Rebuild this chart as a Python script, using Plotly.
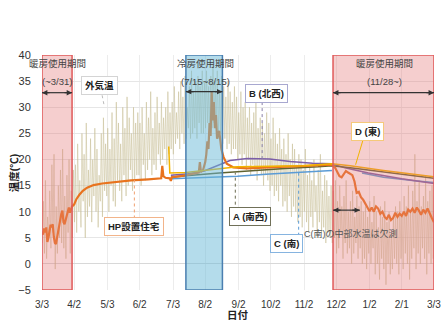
import pandas as pd
import plotly.graph_objects as go

# ---------------------------------------------------------------- data
tick_labels = ["3/3", "4/2", "5/3", "6/2", "7/3", "8/2", "9/2", "10/2",
               "11/2", "12/2", "1/2", "2/1", "3/3"]

# outdoor air temperature: min / max every 2 days from 2016-03-03
outdoor_start = "2016-03-03"
outdoor_step_days = 2
outdoor_max = [
    12, 16, 9, 14, 19, 21, 11, 15, 18, 22, 13, 17, 20, 14, 18,      # Mar
    19, 23, 16, 25, 21, 27, 18, 24, 20, 26, 22, 17, 25, 28, 23,     # Apr
    26, 22, 29, 24, 31, 27, 23, 30, 26, 32, 28, 25, 30, 27, 29,     # May
    27, 30, 25, 31, 28, 33, 26, 29, 32, 27, 31, 28, 30, 33, 29,     # Jun
    31, 34, 29, 33, 35, 32, 36, 30, 34, 37, 33, 35, 36, 34, 37,     # Jul
    35, 37, 34, 36, 38, 35, 37, 33, 36, 34, 32, 35, 33, 31, 34,     # Aug
    32, 29, 33, 30, 31, 28, 30, 27, 29, 31, 26, 28, 27, 25, 29,     # Sep
    27, 24, 28, 25, 23, 26, 22, 24, 21, 25, 20, 23, 22, 19, 21,     # Oct
    20, 18, 22, 17, 19, 16, 20, 15, 18, 21, 14, 17, 16, 13, 15,     # Nov
    14, 16, 12, 15, 11, 13, 16, 10, 12, 14, 9, 13, 11, 12, 10,      # Dec
    11, 9, 12, 8, 13, 10, 7, 11, 9, 12, 8, 10, 6, 9, 11,            # Jan
    10, 12, 9, 13, 11, 15, 10, 14, 21, 12, 16, 11, 13, 17, 12, 14, 15, 13,  # Feb
]
outdoor_min = [
    4, 2, 1, 5, 3, 6, -1, 2, 5, 4, 3, 1, 6, 2, 5,
    8, 6, 10, 7, 12, 5, 9, 11, 8, 13, 10, 7, 12, 9, 14,
    13, 10, 15, 12, 11, 16, 14, 12, 17, 13, 15, 18, 14, 16, 17,
    17, 15, 19, 16, 18, 20, 17, 19, 18, 21, 19, 20, 22, 19, 21,
    22, 21, 23, 24, 22, 25, 23, 24, 26, 24, 25, 26, 24, 27, 25,
    25, 26, 27, 25, 26, 27, 26, 24, 25, 23, 24, 22, 23, 21, 22,
    22, 20, 21, 19, 21, 18, 20, 17, 19, 18, 16, 18, 17, 15, 17,
    16, 14, 15, 13, 14, 12, 15, 11, 12, 10, 13, 9, 11, 10, 8,
    9, 7, 10, 8, 6, 9, 7, 10, 5, 8, 6, 7, 4, 6, 5,
    4, 5, 2, 3, 6, 1, 4, 2, 3, 0, 2, 4, 1, 3, 0,
    1, -1, 2, 0, 3, -2, 0, -3, 1, -1, -4, 0, -2, -1, 1,
    0, -2, 1, -1, 2, 0, -3, 1, 3, -1, 2, 0, 3, 1, -2, 2, 0, 1,
]

# HP設置住宅
hp_days = ["3/3", "3/4", "3/5", "3/6", "3/7", "3/8", "3/9", "3/10", "3/11", "3/12",
           "3/13", "3/14", "3/15", "3/16", "3/17", "3/18", "3/19", "3/20", "3/21", "3/22",
           "3/23", "3/24", "3/25", "3/26", "3/27", "3/28", "3/29", "3/30", "3/31", "4/2",
           "4/4", "4/7", "4/10", "4/14", "4/20", "4/28", "5/10", "5/25", "6/10", "6/22",
           "6/23", "6/24", "6/26", "6/30", "7/1", "7/2", "7/10", "7/20", "7/27", "7/28",
           "7/29", "7/31", "8/2", "8/3", "8/4", "8/5", "8/6", "8/7", "8/8", "8/9",
           "8/10", "8/11", "8/12", "8/13", "8/15", "8/17", "8/19", "8/22", "8/28", "9/10",
           "9/25", "10/10", "10/25", "11/10", "11/28", "12/1", "12/3", "12/5", "12/7", "12/9",
           "12/11", "12/13", "12/15", "12/17", "12/19", "12/21", "12/23", "12/25", "12/27", "12/29",
           "12/31", "1/2", "1/4", "1/6", "1/8", "1/10", "1/12", "1/14", "1/16", "1/18",
           "1/20", "1/22", "1/24", "1/26", "1/28", "1/30", "2/1", "2/3", "2/5", "2/7",
           "2/9", "2/11", "2/13", "2/15", "2/17", "2/19", "2/21", "2/23", "2/25", "2/27",
           "3/1", "3/3"]
hp_temp = [6.2, 5.6, 6.8, 6.0, 7.0, 4.2, 5.0, 6.4, 7.5, 7.0,
           7.6, 5.2, 4.0, 3.8, 5.0, 6.2, 7.8, 8.6, 9.6, 10.2,
           8.0, 7.6, 8.4, 9.2, 10.4, 10.8, 9.8, 10.6, 11.0, 11.4,
           12.4, 13.3, 14.0, 14.6, 15.1, 15.4, 15.7, 16.0, 16.2, 16.4,
           18.8, 16.8, 16.5, 16.4, 15.9, 16.6, 16.8, 17.2, 17.5, 19.5,
           17.6, 18.0, 19.5, 21.0, 23.5, 22.0, 27.0, 24.5, 33.0, 27.5,
           31.0, 26.0, 28.5, 24.0, 25.5, 22.0, 20.5, 19.2, 18.5, 18.3,
           18.5, 18.6, 18.7, 18.8, 19.0, 18.4, 17.6, 16.8, 16.6, 17.2,
           17.8, 17.5, 17.2, 17.0, 15.8, 13.6, 13.8, 12.8, 12.3, 11.6,
           10.8, 10.1, 10.8, 10.0, 11.0, 10.6, 9.6, 10.0, 9.0, 8.6,
           9.4, 8.4, 8.8, 9.8, 9.0, 9.6, 9.2, 10.0, 9.2, 10.4,
           10.0, 10.6, 9.8, 10.8, 10.2, 9.4, 10.4, 9.8, 10.6, 9.6,
           8.8, 8.0]

# A(南西)
a_days = ["7/1", "7/15", "8/15", "9/15", "10/15", "11/15", "11/28", "12/15", "1/15", "2/15", "3/3"]
a_temp = [16.6, 16.9, 17.4, 17.9, 18.3, 18.6, 18.8, 18.4, 17.6, 16.8, 16.4]

# B(北西)
b_days = ["7/1", "7/15", "8/1", "8/15", "8/25", "9/10", "10/1", "10/20", "11/10", "11/28",
          "12/10", "1/1", "2/1", "3/3"]
b_temp = [17.0, 17.2, 17.8, 19.0, 19.8, 20.2, 20.1, 19.6, 19.3, 19.2,
          18.4, 17.4, 16.3, 15.4]

# C(南): no data from 11/29 to 12/25
c_days = ["7/1", "8/1", "9/1", "10/1", "11/1", "11/28", "11/29", "12/26", "1/15", "2/15", "3/3"]
c_temp = [16.3, 16.5, 16.8, 17.2, 17.6, 17.9, None, 17.4, 16.6, 15.9, 15.6]

# D(東)
d_days = ["6/29", "6/30", "7/15", "8/1", "8/15", "9/1", "10/1", "11/1", "11/28",
          "12/15", "1/15", "2/15", "3/3"]
d_temp = [22.5, 17.4, 17.5, 17.9, 18.3, 18.6, 18.7, 18.8, 19.2,
          18.8, 17.9, 17.1, 16.7]


def to_dates(md_list, start_year=2016):
    """'M/D' strings -> ISO dates, rolling the year over when the month wraps."""
    out, year, prev = [], start_year, 0
    for md in md_list:
        m, d = map(int, md.split("/"))
        if m < prev:
            year += 1
        prev = m
        out.append(f"{year}-{m:02d}-{d:02d}")
    return out


FONT = "Liberation Sans, Noto Sans CJK JP, sans-serif"

# outdoor trace as a min/max zigzag
base = pd.Timestamp(outdoor_start)
ox, oy = [], []
for i, (lo, hi) in enumerate(zip(outdoor_min, outdoor_max)):
    day = i * outdoor_step_days
    ox.append(base + pd.Timedelta(days=day + 0.3))
    oy.append(lo)
    ox.append(base + pd.Timedelta(days=day + 1.2))
    oy.append(hi)

fig = go.Figure()
fig.add_trace(go.Scatter(x=ox, y=oy, mode="lines", name="外気温",
                         line=dict(color="rgba(200,190,148,0.6)", width=0.9)))
fig.add_trace(go.Scatter(x=to_dates(c_days), y=c_temp, mode="lines", name="C(南)",
                         line=dict(color="#5b9bd5", width=1.5), connectgaps=False))
fig.add_trace(go.Scatter(x=to_dates(b_days), y=b_temp, mode="lines", name="B(北西)",
                         line=dict(color="#7b5ea7", width=1.5)))
fig.add_trace(go.Scatter(x=to_dates(a_days), y=a_temp, mode="lines", name="A(南西)",
                         line=dict(color="#5f6230", width=1.5)))
fig.add_trace(go.Scatter(x=to_dates(hp_days), y=hp_temp, mode="lines", name="HP設置住宅",
                         line=dict(color="#e8731e", width=2.2)))
fig.add_trace(go.Scatter(x=to_dates(d_days), y=d_temp, mode="lines", name="D(東)",
                         line=dict(color="#f2b400", width=1.5)))

# heating / cooling periods (translucent bands over the curves)
periods = [
    ("2016-03-03", "2016-03-31", "rgba(226,120,120,0.36)", "#e05a5a"),
    ("2016-07-15", "2016-08-18", "rgba(105,185,215,0.5)", "#4a7fb0"),
    ("2016-11-29", "2017-03-03", "rgba(226,120,120,0.36)", "#e05a5a"),
]
shapes = []
for x0, x1, fill, edge in periods:
    shapes.append(dict(type="rect", xref="x", yref="y", x0=x0, x1=x1, y0=-5, y1=40,
                       fillcolor=fill, line=dict(color=edge, width=1.5), layer="above"))

annotations = []

# double arrows
arrows = [("2016-03-03", "2016-03-31", 32.8), ("2016-07-15", "2016-08-18", 33.0),
          ("2016-11-29", "2017-03-03", 32.8), ("2016-11-29", "2016-12-24", 10.3)]
for x0, x1, y in arrows:
    shapes.append(dict(type="line", xref="x", yref="y", x0=x0, x1=x1, y0=y, y1=y,
                       line=dict(color="#333333", width=1.2)))
    for xe, off in ((x0, 9), (x1, -9)):
        annotations.append(dict(x=xe, y=y, xref="x", yref="y", text="", showarrow=True,
                                ax=off, ay=0, arrowhead=2, arrowsize=0.9, arrowwidth=1.2,
                                arrowcolor="#333333", standoff=0))

# period captions
for xc, t1, t2 in (("2016-03-17", "暖房使用期間", "(~3/31)"),
                   ("2016-08-02", "冷房使用期間", "(7/15~8/15)"),
                   ("2017-01-16", "暖房使用期間", "(11/28~)")):
    annotations.append(dict(x=xc, y=38.4, xref="x", yref="y", text=t1, showarrow=False,
                            font=dict(family=FONT, size=9.5, color="#444444")))
    annotations.append(dict(x=xc, y=35.0, xref="x", yref="y", text=t2, showarrow=False,
                            font=dict(family=FONT, size=9.5, color="#444444")))

# leader lines from the labels
leaders = [
    ("2016-04-28", 32.3, "2016-04-30", 30.2, "#bbbbbb", "dot"),
    ("2016-09-24", 31.0, "2016-09-24", 20.1, "#8a80a8", "dot"),
    ("2016-12-27", 23.8, "2016-12-20", 19.0, "#f2b400", "solid"),
    ("2016-05-28", 8.7, "2016-05-28", 16.1, "#f0a070", "dot"),
    ("2016-08-30", 10.2, "2016-08-30", 17.5, "#6b6b50", "dot"),
    ("2016-10-28", 5.4, "2016-10-28", 17.6, "#5b9bd5", "dot"),
]
for x0, y0, x1, y1, col, dash in leaders:
    shapes.append(dict(type="line", xref="x", yref="y", x0=x0, y0=y0, x1=x1, y1=y1,
                       line=dict(color=col, width=1, dash=dash)))

# boxed series labels
labels = [
    ("2016-04-26", 34.1, "<b>外気温</b>", "#d4d4d4"),
    ("2016-09-28", 32.6, "<b>B (北西)</b>", "#a8a8d0"),
    ("2016-12-31", 25.3, "<b>D (東)</b>", "#f5c97a"),
    ("2016-05-28", 7.1, "<b>HP設置住宅</b>", "#f2b48a"),
    ("2016-09-13", 9.0, "<b>A (南西)</b>", "#707058"),
    ("2016-10-17", 4.0, "<b>C (南)</b>", "#86b4e0"),
]
for x, y, t, bc in labels:
    annotations.append(dict(x=x, y=y, xref="x", yref="y", text=t, showarrow=False,
                            bgcolor="white", bordercolor=bc, borderwidth=1, borderpad=3,
                            font=dict(family=FONT, size=9.5, color="#222222")))

annotations.append(dict(x="2016-12-16", y=5.9, xref="x", yref="y",
                        text="C(南)の中部水温は欠測", showarrow=False,
                        font=dict(family=FONT, size=9, color="#555555")))

# axis titles
annotations.append(dict(x=0.5, y=-0.105, xref="paper", yref="paper", text="<b>日付</b>",
                        showarrow=False, yanchor="middle",
                        font=dict(family=FONT, size=10.5, color="#222222")))
annotations.append(dict(x=-0.072, y=0.5, xref="paper", yref="paper", text="<b>温度(℃)</b>",
                        showarrow=False, textangle=-90, xanchor="center",
                        font=dict(family=FONT, size=10.5, color="#222222")))

fig.update_layout(
    width=441, height=321,
    margin=dict(l=42, r=7, t=55, b=31),
    paper_bgcolor="white", plot_bgcolor="white",
    showlegend=False,
    shapes=shapes, annotations=annotations,
    font=dict(family=FONT, color="#333333"),
)
fig.update_xaxes(
    type="date", range=["2016-03-03", "2017-03-03 00:30"],
    tickvals=to_dates(tick_labels), ticktext=tick_labels,
    tickfont=dict(family=FONT, size=10, color="#333333"),
    ticks="outside", ticklen=5, tickcolor="rgba(0,0,0,0)",
    ticklabeloverflow="allow", automargin=False,
    showgrid=True, gridcolor="#ececec", gridwidth=1, zeroline=False, showline=False,
)
fig.update_yaxes(
    range=[-5, 40.02], tickvals=list(range(-5, 41, 5)),
    tickfont=dict(family=FONT, size=11, color="#333333"),
    ticks="outside", ticklen=8, tickcolor="rgba(0,0,0,0)",
    ticklabeloverflow="allow", automargin=False,
    showgrid=True, gridcolor="#e6e6e6", gridwidth=1,
    zeroline=True, zerolinecolor="#d8d8d8", zerolinewidth=1.2, showline=False,
)

fig.write_html("out.html")
